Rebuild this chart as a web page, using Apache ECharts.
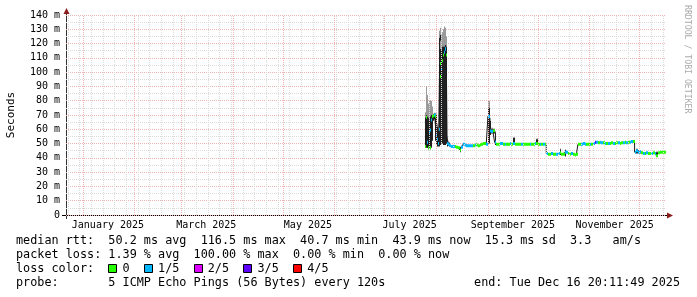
<!DOCTYPE html>
<html><head><meta charset="utf-8">
<script src="https://cdn.jsdelivr.net/npm/echarts@6/dist/echarts.min.js"></script>
<style>html,body{margin:0;padding:0;background:#fff}#c{width:697px;height:297px}</style>
</head><body><div id="c"></div>
<script>
// ---- time range of the graph (last 360 days) ----
const rangeStart = '2024-12-21 20:11:49';
const rangeEnd = '2025-12-16 20:11:49';

// ---- median rtt (ms) with loss class (0..4 => 0,1/5,..,4/5) ----
const dates = [
 '2025-07-25 12:00','2025-07-26 00:00','2025-07-26 12:00','2025-07-27 00:00','2025-07-27 12:00','2025-07-28 00:00','2025-07-28 12:00','2025-07-29 00:00','2025-07-29 12:00','2025-07-30 00:00','2025-07-30 12:00','2025-07-31 00:00','2025-07-31 12:00','2025-08-01 00:00','2025-08-01 12:00','2025-08-02 00:00','2025-08-02 12:00','2025-08-03 00:00','2025-08-03 12:00','2025-08-04 00:00','2025-08-04 12:00','2025-08-05 00:00','2025-08-05 12:00','2025-08-06 00:00','2025-08-06 12:00','2025-08-07 00:00','2025-08-07 12:00','2025-08-08 00:00','2025-08-08 12:00',
 '2025-08-09','2025-08-10','2025-08-11','2025-08-12','2025-08-13','2025-08-14','2025-08-15','2025-08-16','2025-08-17','2025-08-18','2025-08-19','2025-08-20','2025-08-21','2025-08-22','2025-08-23','2025-08-24','2025-08-25','2025-08-26','2025-08-27','2025-08-28','2025-08-29','2025-08-30','2025-08-31',
 '2025-09-01','2025-09-02','2025-09-03','2025-09-04','2025-09-05','2025-09-06','2025-09-07','2025-09-08','2025-09-09','2025-09-10','2025-09-11','2025-09-12','2025-09-13','2025-09-14','2025-09-15','2025-09-16','2025-09-17','2025-09-18','2025-09-19','2025-09-20','2025-09-21','2025-09-22','2025-09-23','2025-09-24','2025-09-25','2025-09-26','2025-09-27','2025-09-28','2025-09-29','2025-09-30',
 '2025-10-01','2025-10-02','2025-10-03','2025-10-04','2025-10-05','2025-10-06','2025-10-07','2025-10-08','2025-10-09','2025-10-10','2025-10-11','2025-10-12','2025-10-13','2025-10-14','2025-10-15','2025-10-16','2025-10-17','2025-10-18','2025-10-19','2025-10-20','2025-10-21','2025-10-22','2025-10-23','2025-10-24','2025-10-25','2025-10-26','2025-10-27','2025-10-28','2025-10-29','2025-10-30','2025-10-31',
 '2025-11-01','2025-11-02','2025-11-03','2025-11-04','2025-11-05','2025-11-06','2025-11-07','2025-11-08','2025-11-09','2025-11-10','2025-11-11','2025-11-12','2025-11-13','2025-11-14','2025-11-15','2025-11-16','2025-11-17','2025-11-18','2025-11-19','2025-11-20','2025-11-21','2025-11-22','2025-11-23','2025-11-24','2025-11-25','2025-11-26','2025-11-27','2025-11-28','2025-11-29','2025-11-30',
 '2025-12-01','2025-12-02','2025-12-03','2025-12-04','2025-12-05','2025-12-06','2025-12-07','2025-12-08','2025-12-09','2025-12-10','2025-12-11','2025-12-12','2025-12-13','2025-12-14','2025-12-15','2025-12-16'
];
const median = [
 48,68.5,51,47,58,59.5,47,66.5,69,69.5,70,70,69,56,53,50,60,106,97,102,108,112,114,116.5,116,112,50,49.5,49,
 48.5,48,48,48,47.5,47,45.5,47.5,49.5,49,48.5,48.5,48.5,48.5,48.5,49,49,48.5,49,49.5,50,50,49.5,
 69,59,58.5,59,51,49.5,49.5,50,50,49.5,49.5,49.5,49.5,50,49.5,50,49.5,49.5,49.5,49.5,49.5,49.5,49.5,49.5,49.5,49.5,49.5,49.5,50,50,
 49.5,49.5,49.5,49.5,49.5,43,42.5,42.5,43,42.5,42.5,42.5,43,43.5,42.5,42.5,44,44,43,42.5,43,42.5,42,42.5,49.5,49.5,49.5,50,49.5,49.5,49.5,
 49.5,49.5,50,51,51,50.5,51,50.5,50.5,50,50,50,50,50.5,50,50,50.5,50.5,50,50.5,50.5,51,50.5,51,51,51.5,51.5,44,45,44,
 44.5,43.5,43,43,43.5,43,43,43,43.5,43,41.5,43.5,44,44,43.9,43.9
];
const loss = [
 0,0,1,0,1,1,0,1,0,0,1,1,0,1,1,1,1,0,0,1,0,0,1,1,1,0,1,1,1,
 1,1,1,0,0,0,0,1,1,1,1,1,1,1,0,1,0,0,0,0,0,0,1,
 1,1,1,0,1,0,0,1,1,0,1,0,0,1,0,1,0,0,0,0,1,0,0,0,0,1,0,0,1,0,
 0,1,0,1,0,1,0,0,1,0,0,1,1,0,0,0,1,1,0,0,1,0,0,0,0,0,1,1,1,0,0,
 1,0,1,3,1,0,1,1,0,1,0,1,0,0,1,0,0,1,0,0,1,0,1,0,1,1,0,1,1,1,
 1,0,1,0,1,0,0,1,0,1,0,0,0,0,0,0
];

// ---- smoke (spread of the pings, ms) ----
const smokeDates = [
 '2025-07-25 12:00','2025-07-26 00:00','2025-07-26 12:00','2025-07-27 00:00','2025-07-27 12:00','2025-07-28 00:00','2025-07-28 12:00','2025-07-29 00:00','2025-07-29 12:00','2025-07-30 00:00','2025-07-30 12:00','2025-07-31 00:00','2025-07-31 12:00','2025-08-01 00:00','2025-08-01 12:00','2025-08-02 00:00','2025-08-02 12:00','2025-08-03 00:00','2025-08-03 12:00','2025-08-04 00:00','2025-08-04 12:00','2025-08-05 00:00','2025-08-05 12:00','2025-08-06 00:00','2025-08-06 12:00','2025-08-07 00:00','2025-08-07 12:00','2025-08-08 00:00','2025-08-08 12:00',
 '2025-08-15','2025-09-01','2025-09-02','2025-09-03','2025-09-04','2025-09-05','2025-09-16','2025-09-30','2025-10-14','2025-10-17','2025-11-29','2025-12-01','2025-12-11'
];
const smokeLow  = [47,47,47,46,47,47,46,47,52,66,67,66,52,49,48,48,48,49,50,50,50,49,49,49,50,50,48,48.5,48, 44,50,56,57,57,49,49,49,42,41,43,43,40.7];
const smokeHigh = [68,70,69,68,66,67,69,70,70,70.5,71,71,70.5,70,62,58,124,126,116,115,118,118,118,119,119,118,53,51,50.5, 47.5,75,66,60,60,58,54,53,46,45.5,46,45,44];
const smokeMax  = [72,90,84,78,80,74,80,80,76,71,71.5,71.5,71,71,64,60,129,131,122,126,128,130,132,131,129,125,55,52,51, 48,80,68,61,60.5,59,54.5,53.5,46.5,46,46.5,45.5,44.5];

// ---- axis labels ----
const xLabelDates = ['2025-01-16','2025-03-16','2025-05-16','2025-07-16','2025-09-16','2025-11-16'];
const xLabels = ['January 2025','March 2025','May 2025','July 2025','September 2025','November 2025'];
const yMin = 0, yMax = 140, yStep = 10;

// ---- legend text ----
const legendRtt = 'median rtt:  50.2 ms avg  116.5 ms max  40.7 ms min  43.9 ms now  15.3 ms sd  3.3   am/s';
const legendLoss = 'packet loss: 1.39 % avg  100.00 % max  0.00 % min  0.00 % now';
const lossLabels = ['0','1/5','2/5','3/5','4/5'];
const lossColors = ['#26ff00','#00b8ff','#dd00ff','#5e00ff','#ff0000'];
const probeText = 'probe:       5 ICMP Echo Pings (56 Bytes) every 120s';
const endText = 'end: Tue Dec 16 20:11:49 2025';

function ts(s){
  const parts = s.split(' ');
  const d = parts[0].split('-').map(Number);
  const t = (parts[1] || '00:00:00').split(':').map(Number);
  return new Date(d[0], d[1]-1, d[2], t[0]||0, t[1]||0, t[2]||0).getTime();
}
const DAY = 86400000;
const dTs = dates.map(ts);
function endOf(i){ return i + 1 < dTs.length ? dTs[i+1] : dTs[i] + DAY; }

const medianData = dTs.map((t,i)=>[t, endOf(i), median[i], loss[i]]);
const smokeData = smokeDates.map((s,i)=>{
  const t = ts(s); const idx = dTs.indexOf(t);
  return [t, endOf(idx), smokeLow[i], smokeHigh[i], smokeMax[i]];
});

// grid lines: weekly (Mondays) and monthly
const tMin = ts(rangeStart), tMax = ts(rangeEnd);
const weekLines = [];
for (let d = new Date(2024,11,23); d.getTime() < tMax; d.setDate(d.getDate()+7)) weekLines.push({xAxis: d.getTime()});
const monthLines = [];
for (let m = 0; m < 12; m++) monthLines.push({xAxis: new Date(2025, m, 1).getTime()});
const labelTs = xLabelDates.map(ts);

const MONO = '"DejaVu Sans Mono", monospace';
const chart = echarts.init(document.getElementById('c'), null, {renderer:'canvas'});

const LX = 16, CW = 11.8 * 0.6021;
const rowY = [241, 255, 269, 283];
const boxIdx = [13, 18, 25, 32, 39];
let lossLine = 'loss color:  ';
lossLabels.forEach((l,i)=>{ lossLine += '  ' + l + (i < lossLabels.length-1 ? '  ' : ''); });

const MAJOR = '#eeb4b4', MINOR = '#dadada';
const graphics = [
  {type:'text', x:11, y:115, rotation:Math.PI/2, style:{text:'Seconds', font:'11px '+MONO, fill:'#000', align:'center', verticalAlign:'middle'}},
  {type:'text', x:687, y:5, rotation:-Math.PI/2, style:{text:'RRDTOOL / TOBI OETIKER', font:'8.2px '+MONO, fill:'#aaaaaa', align:'left', verticalAlign:'middle'}},
  {type:'line', shape:{x1:62, y1:215.5, x2:668, y2:215.5}, style:{stroke:'#000', lineWidth:1}},
  {type:'line', shape:{x1:66.5, y1:12, x2:66.5, y2:219}, style:{stroke:'#333', lineWidth:1}},
  {type:'polygon', shape:{points:[[673,215.5],[667,212.5],[667,218.5]]}, style:{fill:'#8b1c1c'}},
  {type:'polygon', shape:{points:[[66.5,8],[63.5,14],[69.5,14]]}, style:{fill:'#8b1c1c'}},
  {type:'text', x:LX, y:rowY[0], style:{text:legendRtt, font:'11.8px '+MONO, fill:'#000', verticalAlign:'middle'}},
  {type:'text', x:LX, y:rowY[1], style:{text:legendLoss, font:'11.8px '+MONO, fill:'#000', verticalAlign:'middle'}},
  {type:'text', x:LX, y:rowY[2], style:{text:lossLine, font:'11.8px '+MONO, fill:'#000', verticalAlign:'middle'}},
  {type:'text', x:LX, y:rowY[3], style:{text:probeText, font:'11.8px '+MONO, fill:'#000', verticalAlign:'middle'}},
  {type:'text', x:680, y:rowY[3], style:{text:endText, font:'11.8px '+MONO, fill:'#000', align:'right', verticalAlign:'middle'}}
];
lossColors.forEach((c,i)=>{
  graphics.push({type:'rect', shape:{x:Math.round(LX + boxIdx[i]*CW)+0.5, y:rowY[2]-4.5, width:8, height:8}, style:{fill:c, stroke:'#000', lineWidth:1}});
});

function snapX(a, b){ const x0 = Math.round(a); const x1 = Math.max(Math.round(b), x0 + 1); return [x0, x1 - x0]; }

const option = {
  animation: false,
  backgroundColor: '#fff',
  grid: {left:66, top:15, width:600, height:200, containLabel:false},
  xAxis: {
    type:'value', min:tMin, max:tMax,
    axisLine:{show:false},
    axisTick:{show:false},
    splitLine:{show:false},
    axisLabel:{
      customValues: labelTs,
      margin:5, fontFamily:MONO, fontSize:10, color:'#000', hideOverlap:false, showMinLabel:true, showMaxLabel:true,
      formatter:(v)=>{ const i = labelTs.indexOf(v); return i>=0 ? xLabels[i] : ''; }
    }
  },
  yAxis: {
    type:'value', min:yMin, max:yMax, interval:yStep,
    axisLine:{show:false},
    axisTick:{show:false},
    axisLabel:{margin:6, fontFamily:MONO, fontSize:10, color:'#000', formatter:(v)=> v===0 ? '0' : v + ' m'},
    splitLine:{show:true, lineStyle:{color:MAJOR, type:[1,1], width:1}},
    minorTick:{show:false, splitNumber:2},
    minorSplitLine:{show:true, lineStyle:{color:MINOR, type:[1,1], width:1}}
  },
  series: [
    {type:'line', data:[], z:1, silent:true,
     markLine:{silent:true, symbol:['none','none'], label:{show:false}, animation:false,
       lineStyle:{color:MINOR, type:[1,1], width:1}, data: weekLines}},
    {type:'line', data:[], z:1, silent:true,
     markLine:{silent:true, symbol:['none','none'], label:{show:false}, animation:false,
       lineStyle:{color:MAJOR, type:[1,1], width:1}, data: monthLines}},
    {type:'custom', z:2, clip:true, silent:true, data:smokeData, encode:{x:[0,1], y:[2,3,4]},
     renderItem:(params, api)=>{
       const sx = snapX(api.coord([api.value(0), 0])[0], api.coord([api.value(1), 0])[0]);
       const yLo = api.coord([api.value(0), api.value(2)])[1];
       const yHi = api.coord([api.value(0), api.value(3)])[1];
       const yMx = api.coord([api.value(0), api.value(4)])[1];
       return {type:'group', children:[
         {type:'rect', shape:{x:sx[0], y:yMx, width:sx[1], height:yHi-yMx}, style:{fill:'#9a9a9a'}},
         {type:'rect', shape:{x:sx[0], y:yHi, width:sx[1], height:yLo-yHi}, style:{fill:'#222222'}}
       ]};
     }},
    {type:'line', z:3, silent:true, step:'end', showSymbol:false, data: dTs.map((t,i)=>[t, median[i]]),
     lineStyle:{color:'#1a1a1a', width:1}},
    {type:'custom', z:4, clip:true, silent:true, data:medianData, encode:{x:[0,1], y:2},
     renderItem:(params, api)=>{
       const p0 = api.coord([api.value(0), api.value(2)]);
       const sx = snapX(p0[0], api.coord([api.value(1), api.value(2)])[0]);
       return {type:'rect', shape:{x:sx[0], y:p0[1]-1.5, width:sx[1], height:3}, style:{fill:lossColors[api.value(3)]}};
     }}
  ],
  graphic: graphics
};
chart.setOption(option);
</script>
</body></html>
